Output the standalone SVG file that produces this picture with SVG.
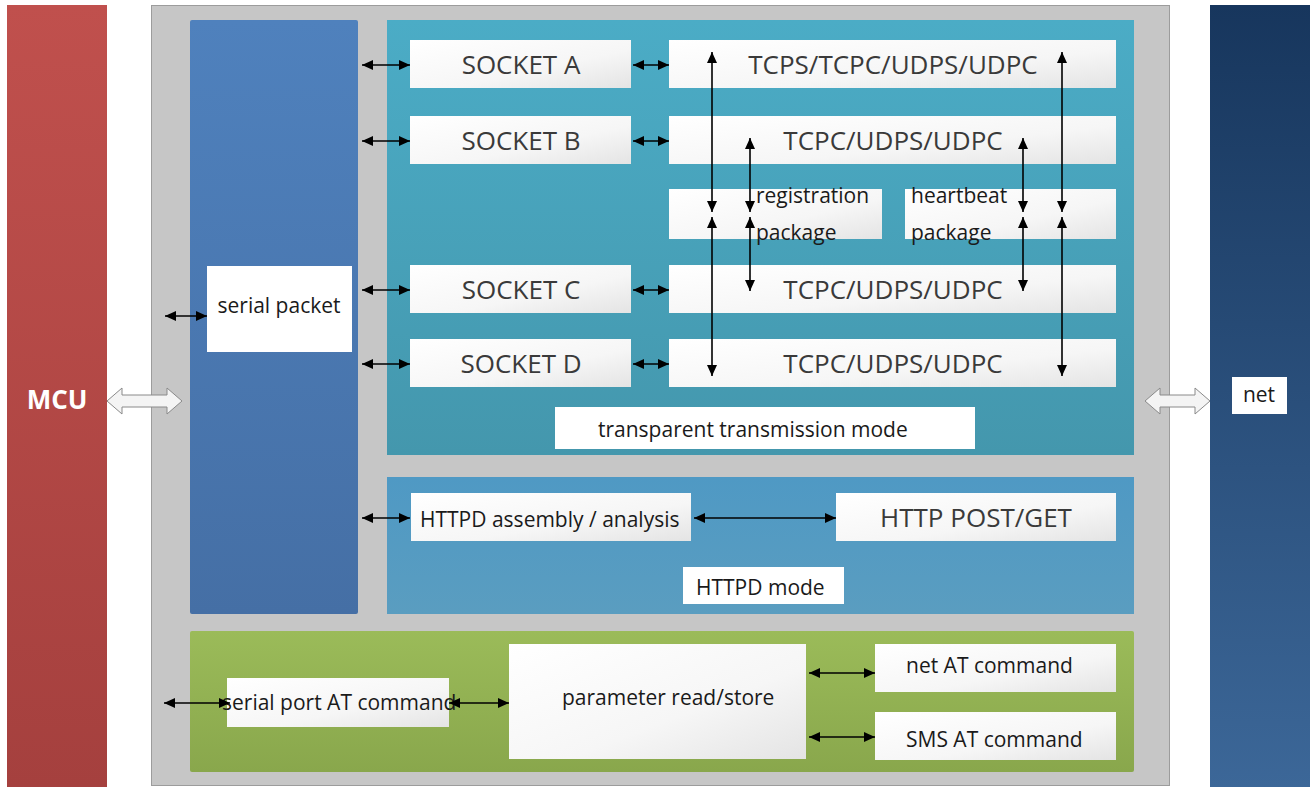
<svg xmlns="http://www.w3.org/2000/svg" width="1314" height="787" viewBox="0 0 1314 787">
<defs>
<linearGradient id="gMcu" x1="0" y1="0" x2="0" y2="1"><stop offset="0" stop-color="#c0504d"/><stop offset="1" stop-color="#a5403e"/></linearGradient>
<linearGradient id="gNet" x1="0" y1="0" x2="0" y2="1"><stop offset="0" stop-color="#17365d"/><stop offset="1" stop-color="#3c6798"/></linearGradient>
<linearGradient id="gSer" x1="0" y1="0" x2="0" y2="1"><stop offset="0" stop-color="#4f81bd"/><stop offset="1" stop-color="#456fa5"/></linearGradient>
<linearGradient id="gTr" x1="0" y1="0" x2="0" y2="1"><stop offset="0" stop-color="#4bacc6"/><stop offset="1" stop-color="#4497ad"/></linearGradient>
<linearGradient id="gHt" x1="0" y1="0" x2="0" y2="1"><stop offset="0" stop-color="#4f99c4"/><stop offset="1" stop-color="#5a9dc0"/></linearGradient>
<linearGradient id="gGr" x1="0" y1="0" x2="0" y2="1"><stop offset="0" stop-color="#9bbb59"/><stop offset="1" stop-color="#89a74c"/></linearGradient>
<linearGradient id="gBox" x1="0" y1="0" x2="1" y2="1"><stop offset="0" stop-color="#ffffff"/><stop offset="0.6" stop-color="#f6f6f6"/><stop offset="1" stop-color="#e4e4e4"/></linearGradient>
<marker id="ah" viewBox="0 0 11 10" refX="11" refY="5" markerWidth="11" markerHeight="10" markerUnits="userSpaceOnUse" orient="auto-start-reverse"><path d="M0,0 L11,5 L0,10 z" fill="#000"/></marker>
</defs>
<style>
.box{fill:url(#gBox)}
.lbl{fill:#ffffff}
.big{font-family:"Open Sans","Noto Sans",sans-serif;font-size:26px;fill:#3a3a3a;text-anchor:middle}
.sm{font-family:"Open Sans","Noto Sans",sans-serif;font-size:21px;fill:#1a1a1a}
.con line{stroke:#000;stroke-width:1.6;marker-start:url(#ah);marker-end:url(#ah)}
.hollow{fill:#f4f4f4;stroke:#8a8a8a;stroke-width:1}
</style>
<rect width="1314" height="787" fill="#ffffff"/>

<g id="mcu">
<rect x="7" y="5" width="100" height="782" fill="url(#gMcu)"/>
<text x="57" y="409" font-family="Open Sans, Noto Sans, sans-serif" font-size="26" font-weight="bold" fill="#ffffff" text-anchor="middle">MCU</text>
</g>

<g id="module">
<rect x="151.5" y="5.5" width="1018" height="780" fill="#c6c6c6" stroke="#9c9c9c" stroke-width="1"/>
</g>

<g id="net">
<rect x="1210" y="5" width="100" height="782" fill="url(#gNet)"/>
<rect x="1232" y="377" width="55" height="37" class="lbl"/>
<text x="1259" y="402" class="sm" text-anchor="middle">net</text>
</g>

<g id="serial-packet">
<rect x="190" y="20" width="168" height="594" rx="2" fill="url(#gSer)"/>
<rect x="207" y="266" width="145" height="86" class="lbl"/>
<text x="279" y="313" class="sm" text-anchor="middle">serial packet</text>
</g>

<g id="transparent-mode">
<rect x="387" y="20" width="747" height="435" fill="url(#gTr)"/>
<rect x="555" y="407" width="420" height="42" class="lbl"/>
<text x="598" y="437" class="sm">transparent transmission mode</text>
</g>

<g id="socket-a"><rect x="410" y="40" width="221" height="48" class="box"/><text x="521" y="74" class="big">SOCKET A</text></g>
<g id="socket-b"><rect x="410" y="116" width="221" height="48" class="box"/><text x="521" y="150" class="big">SOCKET B</text></g>
<g id="socket-c"><rect x="410" y="265" width="221" height="48" class="box"/><text x="521" y="299" class="big">SOCKET C</text></g>
<g id="socket-d"><rect x="410" y="339" width="221" height="48" class="box"/><text x="521" y="373" class="big">SOCKET D</text></g>

<g id="proto-a"><rect x="669" y="40" width="447" height="48" class="box"/><text x="893" y="74" class="big">TCPS/TCPC/UDPS/UDPC</text></g>
<g id="proto-b"><rect x="669" y="116" width="447" height="48" class="box"/><text x="893" y="150" class="big">TCPC/UDPS/UDPC</text></g>
<g id="proto-c"><rect x="669" y="265" width="447" height="48" class="box"/><text x="893" y="299" class="big">TCPC/UDPS/UDPC</text></g>
<g id="proto-d"><rect x="669" y="339" width="447" height="48" class="box"/><text x="893" y="373" class="big">TCPC/UDPS/UDPC</text></g>

<g id="registration"><rect x="669" y="189" width="213" height="50" class="box"/><text x="756" y="203" class="sm">registration</text><text x="756" y="240" class="sm">package</text></g>
<g id="heartbeat"><rect x="905" y="189" width="211" height="50" class="box"/><text x="911" y="203" class="sm">heartbeat</text><text x="911" y="240" class="sm">package</text></g>

<g id="httpd-mode">
<rect x="387" y="477" width="747" height="137" fill="url(#gHt)"/>
<rect x="683" y="567" width="161" height="37" class="lbl"/>
<text x="696" y="595" class="sm">HTTPD mode</text>
</g>
<g id="httpd-assembly"><rect x="411" y="493" width="280" height="48" class="box"/><text x="420" y="527" class="sm">HTTPD assembly / analysis</text></g>
<g id="http-post-get"><rect x="836" y="493" width="280" height="48" class="box"/><text x="976" y="527" class="big">HTTP POST/GET</text></g>

<g id="at-mode">
<rect x="190" y="631" width="944" height="141" rx="2" fill="url(#gGr)"/>
</g>
<g id="serial-at"><rect x="227" y="678" width="222" height="49" class="box"/><text x="222" y="710" class="sm">serial port AT command</text></g>
<g id="param"><rect x="509" y="644" width="297" height="115" class="box"/><text x="562" y="705" class="sm">parameter read/store</text></g>
<g id="net-at"><rect x="875" y="644" width="241" height="48" class="box"/><text x="906" y="673" class="sm">net AT command</text></g>
<g id="sms-at"><rect x="875" y="712" width="241" height="48" class="box"/><text x="906" y="747" class="sm">SMS AT command</text></g>

<g id="connectors" class="con">
<polygon class="hollow" points="107,401 122,388 122,395 167,395 167,388 182,401 167,414 167,407 122,407 122,414"/>
<polygon class="hollow" points="1145,401 1160,388 1160,395 1195,395 1195,388 1210,401 1195,414 1195,407 1160,407 1160,414"/>
<line x1="165" y1="316" x2="207" y2="316"/>
<line x1="362" y1="65" x2="410" y2="65"/>
<line x1="362" y1="141" x2="410" y2="141"/>
<line x1="362" y1="290" x2="410" y2="290"/>
<line x1="362" y1="364" x2="410" y2="364"/>
<line x1="633" y1="65" x2="669" y2="65"/>
<line x1="633" y1="141" x2="669" y2="141"/>
<line x1="633" y1="290" x2="669" y2="290"/>
<line x1="633" y1="364" x2="669" y2="364"/>
<line x1="712" y1="52" x2="712" y2="212"/>
<line x1="712" y1="217" x2="712" y2="376"/>
<line x1="750" y1="138" x2="750" y2="212"/>
<line x1="750" y1="217" x2="750" y2="291"/>
<line x1="1023" y1="138" x2="1023" y2="212"/>
<line x1="1023" y1="217" x2="1023" y2="291"/>
<line x1="1062" y1="52" x2="1062" y2="212"/>
<line x1="1062" y1="217" x2="1062" y2="376"/>
<line x1="362" y1="518" x2="410" y2="518"/>
<line x1="694" y1="518" x2="836" y2="518"/>
<line x1="164" y1="703" x2="230" y2="703"/>
<line x1="449" y1="703" x2="509" y2="703"/>
<line x1="809" y1="673" x2="875" y2="673"/>
<line x1="809" y1="737" x2="875" y2="737"/>
</g>
</svg>
